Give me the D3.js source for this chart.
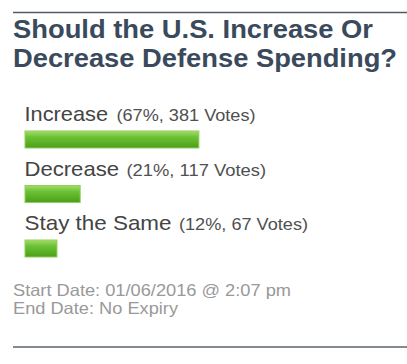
<!DOCTYPE html>
<html>
<head>
<meta charset="utf-8">
<script src="https://cdn.jsdelivr.net/npm/d3@7"></script>
<style>
  html, body { margin: 0; padding: 0; background: #ffffff; }
  svg { display: block; }
</style>
</head>
<body>
<svg id="chart" width="407" height="364"></svg>
<script>
// ---- data ----
const titleLines = ["Should the U.S. Increase Or", "Decrease Defense Spending?"];
const categories = ["Increase", "Decrease", "Stay the Same"];
const percents = [67, 21, 12];
const votes = [381, 117, 67];
const footerLines = ["Start Date: 01/06/2016 @ 2:07 pm", "End Date: No Expiry"];

// ---- layout ----
const W = 407, H = 364;
const svg = d3.select("#chart");
const font = "'Liberation Sans', Arial, Helvetica, sans-serif";

const defs = svg.append("defs");
const grad = defs.append("linearGradient").attr("id", "barGrad")
  .attr("x1", 0).attr("y1", 0).attr("x2", 0).attr("y2", 1);
grad.append("stop").attr("offset", "0%").attr("stop-color", "#a6dc6e");
grad.append("stop").attr("offset", "35%").attr("stop-color", "#6cc236");
grad.append("stop").attr("offset", "100%").attr("stop-color", "#4a9f18");

// rules
svg.append("line").attr("x1", 13).attr("x2", W).attr("y1", 12.5).attr("y2", 12.5)
  .attr("stroke", "#535c65").attr("stroke-width", 1.5);
svg.append("line").attr("x1", 13).attr("x2", W).attr("y1", 347).attr("y2", 347)
  .attr("stroke", "#5a636c").attr("stroke-width", 1.5);

// title
const titleWidths = [360, 384];
svg.selectAll("text.title").data(titleLines).join("text")
  .attr("class", "title")
  .attr("x", 13)
  .attr("y", (d, i) => 38 + i * 29)
  .attr("font-family", font)
  .attr("font-weight", "bold")
  .attr("font-size", 25)
  .attr("fill", "#3a4a5c")
  .attr("textLength", (d, i) => titleWidths[i])
  .attr("lengthAdjust", "spacingAndGlyphs")
  .text(d => d);

// scales
const x = d3.scaleLinear().domain([0, 100]).range([25, 283]);
const y = d3.scaleBand().domain(categories).range([131, 131 + 54.5 * 3]).paddingInner(0).paddingOuter(0);
const barH = 17;

const rows = svg.selectAll("g.row").data(categories).join("g").attr("class", "row");

rows.append("rect")
  .attr("x", x(0))
  .attr("y", d => y(d))
  .attr("width", (d, i) => x(percents[i]) - x(0) + 1)
  .attr("height", barH)
  .attr("fill", "url(#barGrad)")
  .attr("stroke", "#8fcf5a")
  .attr("stroke-width", 1);

const labelWidths = [83.5, 94.5, 147];
const parenWidths = [139, 139.5, 129];
const gap = [8.5, 7.5, 7.5];

rows.append("text")
  .attr("x", 24.5)
  .attr("y", d => y(d) - 10)
  .attr("font-family", font)
  .attr("font-size", 21)
  .attr("fill", "#444444")
  .attr("textLength", (d, i) => labelWidths[i])
  .attr("lengthAdjust", "spacingAndGlyphs")
  .text(d => d);

rows.append("text")
  .attr("x", (d, i) => 24.5 + labelWidths[i] + gap[i])
  .attr("y", d => y(d) - 10)
  .attr("font-family", font)
  .attr("font-size", 17)
  .attr("fill", "#505050")
  .attr("textLength", (d, i) => parenWidths[i])
  .attr("lengthAdjust", "spacingAndGlyphs")
  .text((d, i) => `(${percents[i]}%, ${votes[i]} Votes)`);

// footer
const footerWidths = [278, 165];
svg.selectAll("text.footer").data(footerLines).join("text")
  .attr("class", "footer")
  .attr("x", 13)
  .attr("y", (d, i) => 296 + i * 18)
  .attr("font-family", font)
  .attr("font-size", 16.5)
  .attr("fill", "#999999")
  .attr("textLength", (d, i) => footerWidths[i])
  .attr("lengthAdjust", "spacingAndGlyphs")
  .text(d => d);
</script>
</body>
</html>
